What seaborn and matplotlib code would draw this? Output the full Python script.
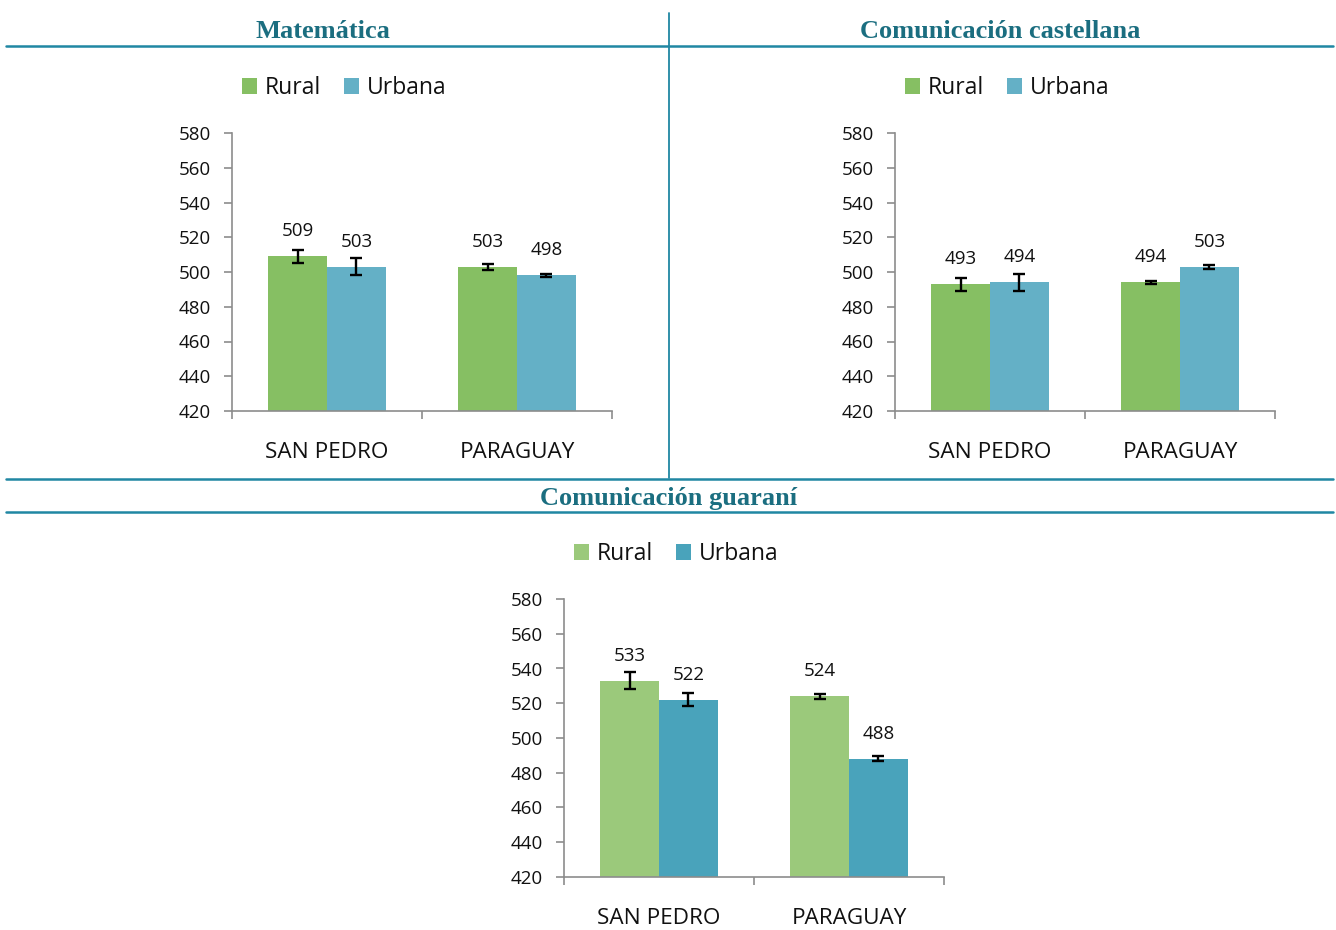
import matplotlib
matplotlib.use("Agg")
import matplotlib.pyplot as plt
from matplotlib.lines import Line2D
import seaborn as sns
import pandas as pd

# ---- data ----
categories = ["SAN PEDRO", "PARAGUAY"]
zones = ["Rural", "Urbana"]

mat_rural = [509, 503]
mat_urbana = [503, 498]
mat_err_rural = [3.8, 1.8]
mat_err_urbana = [5.0, 1.0]

cas_rural = [493, 494]
cas_urbana = [494, 503]
cas_err_rural = [3.8, 1.0]
cas_err_urbana = [4.8, 1.0]

gua_rural = [533, 524]
gua_urbana = [522, 488]
gua_err_rural = [4.8, 1.3]
gua_err_urbana = [3.8, 1.5]

titles = ["Matemática", "Comunicación castellana", "Comunicación guaraní"]
yticks = [420, 440, 460, 480, 500, 520, 540, 560, 580]

sns.set_theme(style="white")
plt.rcParams["font.family"] = ["Open Sans", "DejaVu Sans"]

W, H = 1336, 930
fig = plt.figure(figsize=(W / 100, H / 100), dpi=100)

AX_W = 380 / W
AX_H = 278 / H
panels = [
    dict(left=232 / W, bottom=1 - 411 / H, rural=mat_rural, urbana=mat_urbana,
         er=mat_err_rural, eu=mat_err_urbana, colors=["#86BF63", "#64B0C6"]),
    dict(left=895 / W, bottom=1 - 411 / H, rural=cas_rural, urbana=cas_urbana,
         er=cas_err_rural, eu=cas_err_urbana, colors=["#86BF63", "#64B0C6"]),
    dict(left=564 / W, bottom=1 - 877 / H, rural=gua_rural, urbana=gua_urbana,
         er=gua_err_rural, eu=gua_err_urbana, colors=["#9BC97B", "#49A3BB"]),
]

axis_col = "#8C8C8C"
txt_col = "#111111"
for p in panels:
    ax = fig.add_axes([p["left"], p["bottom"], AX_W, AX_H])
    df = pd.DataFrame({
        "cat": categories * 2,
        "zona": [zones[0]] * 2 + [zones[1]] * 2,
        "val": p["rural"] + p["urbana"],
        "err": p["er"] + p["eu"],
    })
    sns.barplot(data=df, x="cat", y="val", hue="zona", order=categories,
                hue_order=zones, palette=p["colors"], width=0.62, gap=0,
                errorbar=None, ax=ax, saturation=1, linewidth=0)
    bar_containers = list(ax.containers)
    # error bars and labels
    for ci, cont in enumerate(bar_containers):
        zdf = df[df["zona"] == zones[ci]].set_index("cat").loc[categories]
        for bar, v, e in zip(cont.patches, zdf["val"], zdf["err"]):
            xc = bar.get_x() + bar.get_width() / 2
            ax.errorbar(xc, v, yerr=e, fmt="none", ecolor="black",
                        elinewidth=1.7, capsize=4, capthick=1.7, zorder=5)
            ax.annotate(f"{v:d}", xy=(xc, v), xytext=(0, 18),
                        textcoords="offset points", ha="center", va="center",
                        fontsize=13.5, color=txt_col)
    ax.set_ylim(420, 580)
    ax.set_yticks(yticks)
    ax.set_xlim(-0.5, 1.5)
    ax.set_xlabel("")
    ax.set_ylabel("")
    ax.set_xticks([0, 1])
    ax.set_xticklabels(categories, fontsize=16.2, color=txt_col)
    ax.set_xticks([-0.5, 0.5, 1.5], minor=True)
    ax.tick_params(axis="x", which="major", length=0, pad=22)
    ax.tick_params(axis="x", which="minor", length=6, width=1.2,
                   color=axis_col, direction="out", bottom=True)
    ax.tick_params(axis="y", length=6, width=1.2, color=axis_col,
                   direction="out", left=True, pad=9, labelsize=13.5,
                   labelcolor=txt_col)
    for s in ["top", "right"]:
        ax.spines[s].set_visible(False)
    for s in ["left", "bottom"]:
        ax.spines[s].set_color(axis_col)
        ax.spines[s].set_linewidth(1.2)
    ax.grid(False)
    handles, labels = ax.get_legend_handles_labels()
    if ax.get_legend() is not None:
        ax.get_legend().remove()
    leg = ax.legend(handles, labels, loc="center", bbox_to_anchor=(0.295, 1.162),
                    ncol=2, frameon=False, fontsize=16.5, handlelength=0.65,
                    handleheight=0.65, handletextpad=0.35, columnspacing=1.0,
                    borderaxespad=0, borderpad=0)
    for t in leg.get_texts():
        t.set_color(txt_col)

# titles
title_col = "#1B6E80"
title_kw = dict(ha="center", va="center", fontsize=19, fontweight="bold",
                color=title_col, family=["Liberation Serif", "DejaVu Serif"])
fig.text(323 / W, 1 - 32 / H, titles[0], **title_kw)
fig.text(1000 / W, 1 - 32 / H, titles[1], **title_kw)
fig.text(669 / W, 1 - 499 / H, titles[2], **title_kw)

# separator lines
line_col = "#2087A3"
def hline(y, lw=1.8):
    fig.add_artist(Line2D([6 / W, 1333 / W], [1 - y / H, 1 - y / H],
                          transform=fig.transFigure, color=line_col, lw=lw))
hline(46)
hline(479)
hline(512)
fig.add_artist(Line2D([669 / W, 669 / W], [1 - 13 / H, 1 - 478 / H],
                      transform=fig.transFigure, color=line_col, lw=1.3))

fig.savefig("out.png", dpi=100)
